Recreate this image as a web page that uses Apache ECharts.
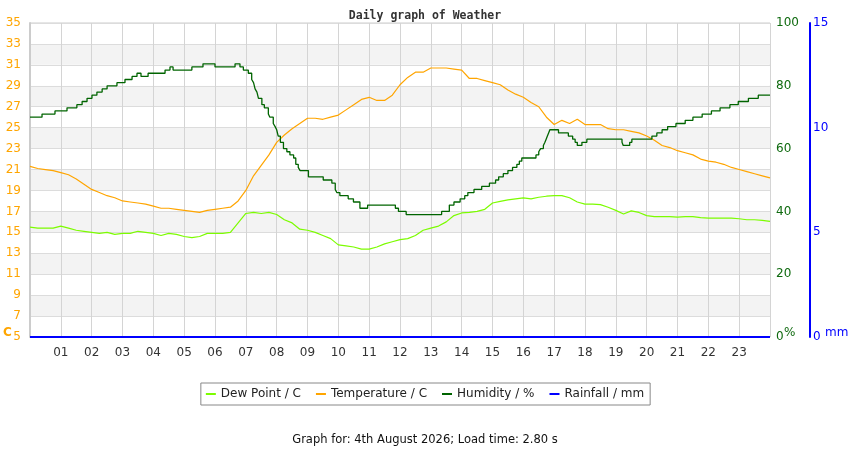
<!DOCTYPE html>
<html>
<head>
<meta charset="utf-8">
<script src="https://cdn.jsdelivr.net/npm/echarts@6/dist/echarts.min.js"></script>
<style>
  html, body { margin: 0; padding: 0; background: #fff; }
  #chart { width: 850px; height: 450px; }
</style>
</head>
<body>
<div id="chart"></div>
<script>
// temperature / dew point: readings every 15 minutes, 00:00 .. 24:00
const temperature = [
  21.3, 21.1, 21.0, 20.9, 20.7, 20.5, 20.1, 19.6, 19.1, 18.8, 18.5, 18.3,
  18.0, 17.9, 17.8, 17.7, 17.5, 17.3, 17.3, 17.2, 17.1, 17.0, 16.9, 17.1,
  17.2, 17.3, 17.4, 18.0, 19.0, 20.4, 21.4, 22.4, 23.6, 24.3, 24.9, 25.4,
  25.9, 25.9, 25.8, 26.0, 26.2, 26.7, 27.2, 27.7, 27.9, 27.6, 27.6, 28.1,
  29.1, 29.8, 30.3, 30.3, 30.7, 30.7, 30.7, 30.6, 30.5, 29.7, 29.7, 29.5,
  29.3, 29.1, 28.6, 28.2, 27.9, 27.4, 27.0, 26.0, 25.3, 25.7, 25.4, 25.8,
  25.3, 25.3, 25.3, 24.9, 24.8, 24.8, 24.65, 24.5, 24.2, 23.8, 23.3, 23.1,
  22.8, 22.6, 22.4, 22.0, 21.8, 21.7, 21.5, 21.2, 21.0, 20.8, 20.6, 20.4,
  20.2
];
const dewPoint = [
  15.5, 15.4, 15.4, 15.4, 15.6, 15.4, 15.2, 15.1, 15.0, 14.9, 15.0, 14.8,
  14.9, 14.9, 15.1, 15.0, 14.9, 14.7, 14.9, 14.8, 14.6, 14.5, 14.6, 14.9,
  14.9, 14.9, 15.0, 15.9, 16.8, 16.9, 16.8, 16.9, 16.7, 16.2, 15.9, 15.3,
  15.2, 15.0, 14.7, 14.4, 13.8, 13.7, 13.6, 13.4, 13.4, 13.6, 13.9, 14.1,
  14.3, 14.4, 14.7, 15.2, 15.4, 15.6, 16.0, 16.6, 16.85, 16.9, 17.0, 17.2,
  17.8, 17.95, 18.1, 18.2, 18.3, 18.2, 18.35, 18.45, 18.5, 18.5, 18.3, 17.9,
  17.7, 17.7, 17.65, 17.4, 17.1, 16.75, 17.05, 16.9, 16.6, 16.5, 16.5, 16.5,
  16.45, 16.5, 16.5, 16.4, 16.35, 16.35, 16.35, 16.35, 16.3, 16.2, 16.2, 16.15,
  16.05
];
// humidity: hour at which each reading starts, and the reading (%)
const humHours = [
  0, 0.39, 0.81, 1.2, 1.52, 1.69, 1.85, 2.01, 2.17, 2.34, 2.5, 2.82,
  3.08, 3.31, 3.47, 3.6, 3.83, 4.38, 4.54, 4.64, 5.25, 5.61, 6.0, 6.65,
  6.81, 6.92, 7.08, 7.19, 7.25, 7.3, 7.36, 7.41, 7.52, 7.6, 7.73, 7.78,
  7.89, 7.95, 8.0, 8.05, 8.12, 8.22, 8.33, 8.43, 8.55, 8.62, 8.7, 8.76,
  9.03, 9.51, 9.79, 9.9, 9.95, 10.05, 10.32, 10.49, 10.7, 10.95, 11.85, 11.95,
  12.2, 13.35, 13.6, 13.75, 13.95, 14.1, 14.2, 14.4, 14.65, 14.9, 15.1, 15.2,
  15.35, 15.5, 15.65, 15.79, 15.87, 15.95, 16.41, 16.5, 16.56, 16.65, 16.7, 16.74,
  16.78, 16.82, 16.86, 17.14, 17.46, 17.6, 17.68, 17.75, 17.9, 18.06, 19.2, 19.24,
  19.45, 19.52, 20.17, 20.33, 20.5, 20.68, 20.95, 21.25, 21.5, 21.8, 22.1, 22.38,
  22.7, 22.97, 23.3, 23.62, 24
];
const humidity = [
  70, 71, 72, 73, 74, 75, 76, 77, 78, 79, 80, 81,
  82, 83, 84, 83, 84, 85, 86, 85, 86, 87, 86, 87,
  86, 85, 84, 82, 81, 79, 78, 76, 74, 73, 71, 70,
  68, 67, 66, 64, 62, 60, 59, 58, 57, 55, 54, 53,
  51, 50, 49, 47, 46, 45, 44, 43, 41, 42, 41, 40,
  39, 40, 42, 43, 44, 45, 46, 47, 48, 49, 50, 51,
  52, 53, 54, 55, 56, 57, 58, 59, 60, 61, 62, 63,
  64, 65, 66, 65, 64, 63, 62, 61, 62, 63, 62, 61,
  62, 63, 64, 65, 66, 67, 68, 69, 70, 71, 72, 73,
  74, 75, 76, 77, 77
];
const rainHours = [0, 24];
const rainfall = [0, 0];

const hours = temperature.map((_, i) => i / 4);
const pairs = (xs, ys) => xs.map((x, i) => [x, ys[i]]);

const FONT = 'DejaVu Sans';
const chart = echarts.init(document.getElementById('chart'));

const option = {
  animation: false,
  backgroundColor: '#fff',
  textStyle: { fontFamily: FONT },
  title: [
    {
      text: 'Daily graph of Weather', left: 'center', top: 5,
      textStyle: { fontFamily: 'DejaVu Sans Mono', fontWeight: 'bold', fontSize: 11.5, color: '#333' }
    },
    {
      text: 'Graph for: 4th August 2026; Load time: 2.80 s', left: 'center', top: 429,
      textStyle: { fontFamily: FONT, fontWeight: 'normal', fontSize: 11.5, color: '#111' }
    }
  ],
  legend: {
    top: 383, left: 'center',
    data: ['Dew Point / C', 'Temperature / C', 'Humidity / %', 'Rainfall / mm'],
    icon: 'rect', itemWidth: 10, itemHeight: 2, itemGap: 15,
    borderColor: '#888', borderWidth: 1, padding: [5, 6, 5, 5],
    textStyle: { fontFamily: FONT, fontSize: 12, color: '#222' }
  },
  grid: { left: 30, right: 80, top: 23, bottom: 113, show: true, borderColor: '#ccc', borderWidth: 1 },
  xAxis: {
    type: 'value', min: 0, max: 24, interval: 1,
    axisLine: { show: false },
    axisTick: { show: false },
    axisLabel: {
      color: '#333', fontSize: 12, margin: 10,
      formatter: v => (v === 0 || v === 24) ? '' : String(v).padStart(2, '0')
    },
    splitLine: { show: true, lineStyle: { color: '#d4d4d4', width: 1 } }
  },
  yAxis: [
    {
      type: 'value', min: 5, max: 35, interval: 2, position: 'left',
      axisLine: { show: true, lineStyle: { color: '#ccc', width: 2 } },
      axisTick: { show: false },
      axisLabel: { color: '#ffa500', fontSize: 12, margin: 9 },
      splitLine: { show: true, lineStyle: { color: '#dcdcdc' } },
      splitArea: { show: true, areaStyle: { color: ['#ffffff', '#f3f3f3'] } }
    },
    {
      type: 'value', min: 0, max: 100, interval: 20, position: 'right',
      axisLine: { show: false },
      axisTick: { show: false },
      axisLabel: { color: '#0f6a0f', fontSize: 12, margin: 6 },
      splitLine: { show: false }
    },
    {
      type: 'value', min: 0, max: 15, interval: 5, position: 'right', offset: 40,
      axisLine: { show: true, lineStyle: { color: '#0000ff', width: 2 } },
      axisTick: { show: false },
      axisLabel: { color: '#0000ff', fontSize: 12, margin: 3 },
      splitLine: { show: false }
    }
  ],
  graphic: [
    { type: 'text', left: 3, top: 327, style: { text: 'C', fill: '#ffa500', font: 'bold 12px DejaVu Sans' } },
    { type: 'text', left: 784, top: 327, style: { text: '%', fill: '#0f6a0f', font: '12px DejaVu Sans' } },
    { type: 'text', left: 825, top: 327, style: { text: 'mm', fill: '#0000ff', font: '12px DejaVu Sans' } }
  ],
  series: [
    {
      name: 'Dew Point / C', type: 'line', yAxisIndex: 0, showSymbol: false,
      data: pairs(hours, dewPoint),
      lineStyle: { color: '#7cfc00', width: 1.2 }, itemStyle: { color: '#7cfc00' }
    },
    {
      name: 'Temperature / C', type: 'line', yAxisIndex: 0, showSymbol: false,
      data: pairs(hours, temperature),
      lineStyle: { color: '#ffa500', width: 1.2 }, itemStyle: { color: '#ffa500' }
    },
    {
      name: 'Humidity / %', type: 'line', yAxisIndex: 1, showSymbol: false, step: 'end',
      data: pairs(humHours, humidity),
      lineStyle: { color: '#006400', width: 1.3 }, itemStyle: { color: '#006400' }
    },
    {
      name: 'Rainfall / mm', type: 'line', yAxisIndex: 2, showSymbol: false,
      data: pairs(rainHours, rainfall),
      lineStyle: { color: '#0000ff', width: 2 }, itemStyle: { color: '#0000ff' }
    }
  ]
};

chart.setOption(option);
window.addEventListener('resize', () => chart.resize());
</script>
</body>
</html>
